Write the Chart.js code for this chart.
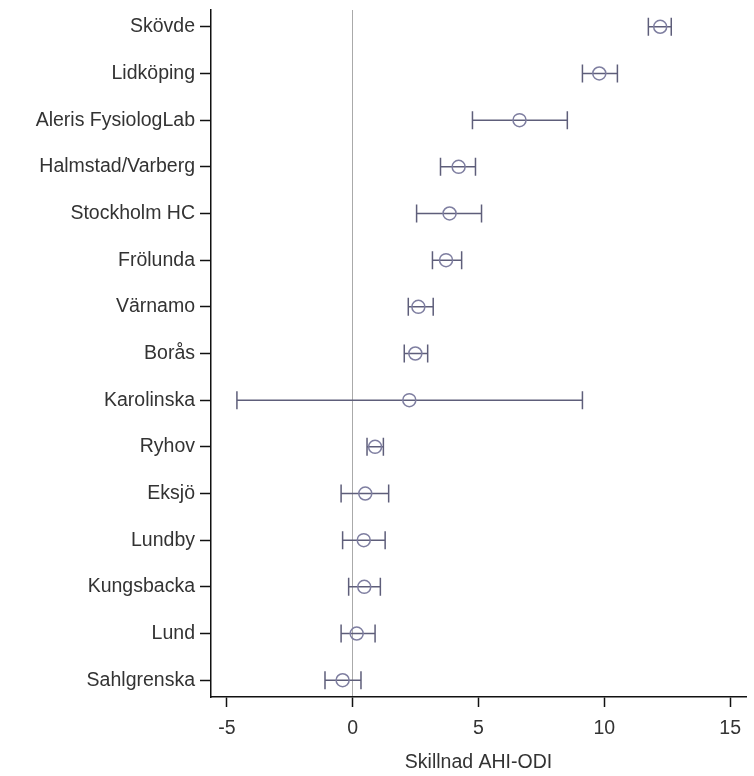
<!DOCTYPE html>
<html>
<head>
<meta charset="utf-8">
<script src="https://cdn.jsdelivr.net/npm/chart.js@4/dist/chart.umd.min.js"></script>
<style>
  body { margin: 0; background: #fff; }
  #wrap { width: 754px; height: 776px; }
</style>
</head>
<body>
<div id="wrap"><canvas id="chart"></canvas></div>
<script>
const sites = ['Skövde', 'Lidköping', 'Aleris FysiologLab', 'Halmstad/Varberg', 'Stockholm HC', 'Frölunda', 'Värnamo', 'Borås', 'Karolinska', 'Ryhov', 'Eksjö', 'Lundby', 'Kungsbacka', 'Lund', 'Sahlgrenska'];
const means = [12.22, 9.8, 6.63, 4.21, 3.85, 3.71, 2.61, 2.49, 2.25, 0.89, 0.5, 0.44, 0.46, 0.16, -0.4];
const lower = [11.75, 9.13, 4.76, 3.49, 2.54, 3.17, 2.21, 2.05, -4.6, 0.57, -0.46, -0.4, -0.16, -0.46, -1.1];
const upper = [12.66, 10.52, 8.53, 4.88, 5.12, 4.33, 3.2, 2.98, 9.13, 1.22, 1.43, 1.29, 1.1, 0.89, 0.33];
const xTicks = [-5, 0, 5, 10, 15];

const font = { family: '"Liberation Sans", Arial, sans-serif', size: 19.5 };

// whiskers with end caps, drawn under the circles
const errorBars = {
  id: 'errorBars',
  beforeDatasetsDraw(chart) {
    const { ctx, scales: { x, y } } = chart;
    ctx.save();
    ctx.strokeStyle = '#5e5e7a';
    ctx.lineWidth = 1.5;
    sites.forEach((_, i) => {
      const py = y.getPixelForValue(i);
      const x0 = x.getPixelForValue(lower[i]);
      const x1 = x.getPixelForValue(upper[i]);
      ctx.beginPath();
      ctx.moveTo(x0, py); ctx.lineTo(x1, py);
      ctx.moveTo(x0, py - 9); ctx.lineTo(x0, py + 9);
      ctx.moveTo(x1, py - 9); ctx.lineTo(x1, py + 9);
      ctx.stroke();
    });
    ctx.restore();
  }
};

new Chart(document.getElementById('chart'), {
  type: 'scatter',
  data: {
    datasets: [{
      data: means.map((m, i) => ({ x: m, y: i })),
      pointStyle: 'circle',
      radius: 6.5,
      borderWidth: 1.5,
      borderColor: '#7e7ea0',
      backgroundColor: 'rgba(0,0,0,0)',
    }]
  },
  options: {
    responsive: true,
    maintainAspectRatio: false,
    animation: false,
    layout: { padding: { top: 10, right: 7, left: 0, bottom: 0 } },
    plugins: { legend: { display: false }, tooltip: { enabled: false } },
    scales: {
      x: {
        type: 'linear',
        min: -5.63,
        max: 15.63,
        afterBuildTicks: s => { s.ticks = xTicks.map(v => ({ value: v })); },
        afterFit: s => { s.height = 79; },
        ticks: { font, color: '#333', padding: 10 },
        grid: {
          color: c => (c.tick && c.tick.value === 0) ? '#aaaaaa' : 'rgba(0,0,0,0)',
          tickColor: '#111',
          tickLength: 10,
          tickWidth: 1.5,
        },
        border: { color: '#111', width: 1.5 },
        title: { display: true, text: 'Skillnad AHI-ODI', font, color: '#333', padding: { top: 6, bottom: 2 } }
      },
      y: {
        type: 'linear',
        reverse: true,
        min: -0.36,
        max: 14.36,
        afterBuildTicks: s => { s.ticks = sites.map((_, i) => ({ value: i })); },
        afterFit: s => { s.width = 211; s.paddingTop = 0; s.paddingBottom = 0; },
        ticks: { font, color: '#333', padding: 5, autoSkip: false, callback: v => sites[v] },
        grid: { drawOnChartArea: false, tickColor: '#111', tickLength: 11, tickWidth: 1.5 },
        border: { color: '#111', width: 1.5 }
      }
    }
  },
  plugins: [errorBars]
});
</script>
</body>
</html>
